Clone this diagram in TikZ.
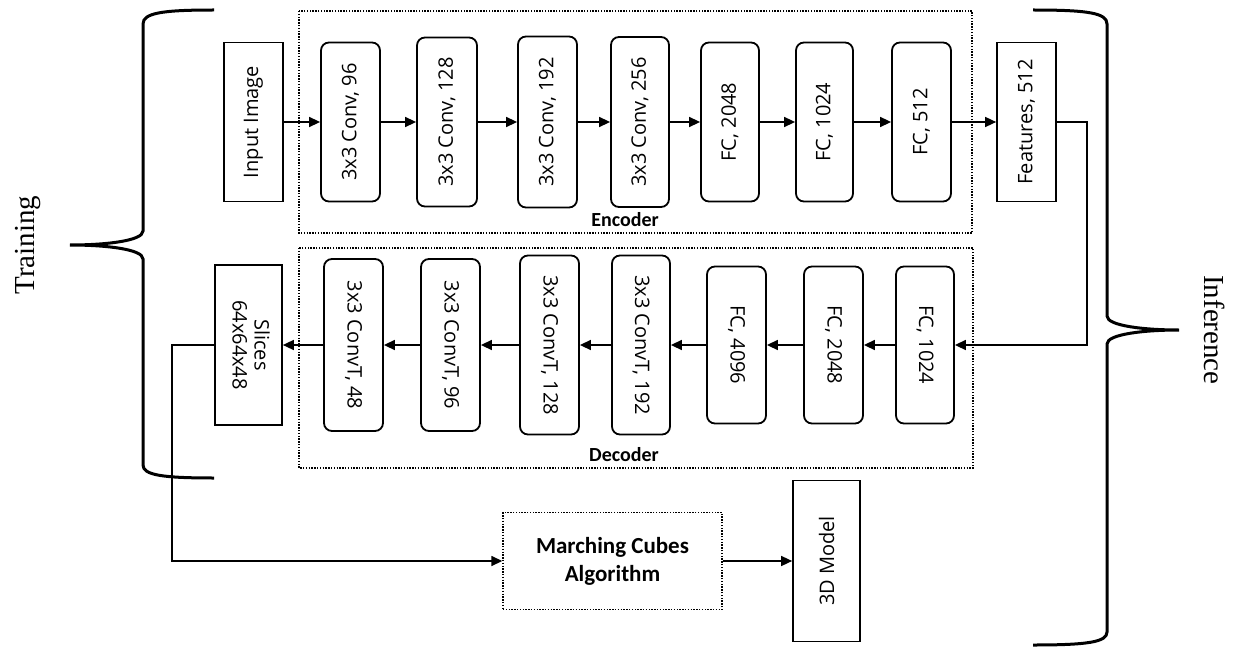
\documentclass[tikz,border=0pt]{standalone}
\usepackage{fontspec}
\setmainfont{Liberation Serif}
\newfontfamily\boxfont{Open Sans}
\newfontfamily\capfont{Carlito}
\usetikzlibrary{arrows.meta}
\newcommand{\rotup}[1]{\rotatebox{90}{#1}}
\newcommand{\rotdn}[1]{\rotatebox{-90}{#1}}
\tikzset{
  layer/.style={draw, line width=1.8pt, rounded corners=8pt, inner sep=0pt,
    font=\boxfont\fontsize{20}{24}\selectfont},
  plainbox/.style={draw, line width=1.7pt, inner sep=0pt,
    font=\boxfont\fontsize{20}{24}\selectfont},
  frame/.style={line width=1.4pt, dash pattern=on 1.4pt off 1.4pt},
  arr/.style={line width=1.5pt, -{Triangle[length=11pt,width=10pt]}},
  curly/.style={line width=3pt},
  caption/.style={font=\capfont\bfseries\fontsize{20}{24}\selectfont},
  side/.style={font=\fontsize{29}{34}\selectfont},
}
\begin{document}
\begin{tikzpicture}[x=1pt, y=-1pt]
  \useasboundingbox (0,0) rectangle (1241,647);
  % --- row heights ---
  \def\ye{122}   % encoder row
  \def\yd{345}   % decoder row
  % Encoder
  \draw[frame] (299,11) rectangle (972,233);
  \node[caption] (enclab) at (625,220) {Encoder};
  \node[plainbox, minimum width=59pt, minimum height=159pt] (inimg) at (253.5,\ye) {\rotup{Input Image}};
  \node[layer, minimum width=59pt, minimum height=159pt] (c96) at (350.5,\ye) {\rotup{3x3 Conv, 96}};
  \node[layer, minimum width=60pt, minimum height=169pt] (c128) at (447,\ye) {\rotup{3x3 Conv, 128}};
  \node[layer, minimum width=59pt, minimum height=171pt] (c192) at (547.5,\ye) {\rotup{3x3 Conv, 192}};
  \node[layer, minimum width=58pt, minimum height=170pt] (c256) at (640,\ye) {\rotup{3x3 Conv, 256}};
  \node[layer, minimum width=58pt, minimum height=159pt] (fc2048) at (730,\ye) {\rotup{FC, 2048}};
  \node[layer, minimum width=57pt, minimum height=159pt] (fc1024) at (824.5,\ye) {\rotup{FC, 1024}};
  \node[layer, minimum width=59pt, minimum height=159pt] (fc512) at (921.5,\ye) {\rotup{FC, 512}};
  \node[plainbox, minimum width=59pt, minimum height=159pt] (feat) at (1026.5,\ye) {\rotup{Features, 512}};
  \foreach \a/\b in {inimg/c96, c96/c128, c128/c192, c192/c256, c256/fc2048, fc2048/fc1024, fc1024/fc512, fc512/feat}
    \draw[arr] (\a.east) -- (\b.west);
  % Decoder
  \draw[frame] (299,248) rectangle (973,468);
  \node[caption] (declab) at (624,455) {Decoder};
  \node[layer, minimum width=58pt, minimum height=157pt] (dfc1024) at (925,\yd) {\rotdn{FC, 1024}};
  \node[layer, minimum width=59pt, minimum height=157pt] (dfc2048) at (833.5,\yd) {\rotdn{FC, 2048}};
  \node[layer, minimum width=59pt, minimum height=157pt] (dfc4096) at (736.5,\yd) {\rotdn{FC, 4096}};
  \node[layer, minimum width=58pt, minimum height=179pt] (dt192) at (641,\yd) {\rotdn{3x3 ConvT, 192}};
  \node[layer, minimum width=59pt, minimum height=179pt] (dt128) at (549.5,\yd) {\rotdn{3x3 ConvT, 128}};
  \node[layer, minimum width=59pt, minimum height=172pt] (dt96) at (450.5,\yd) {\rotdn{3x3 ConvT, 96}};
  \node[layer, minimum width=59pt, minimum height=172pt] (dt48) at (353.5,\yd) {\rotdn{3x3 ConvT, 48}};
  \node[plainbox, minimum width=67pt, minimum height=160pt] (slices) at (248.5,\yd)
    {\rotdn{\begin{tabular}{@{}c@{}}Slices\\[-2pt]64x64x48\end{tabular}}};
  \foreach \a/\b in {dfc1024/dfc2048, dfc2048/dfc4096, dfc4096/dt192, dt192/dt128, dt128/dt96, dt96/dt48, dt48/slices}
    \draw[arr] (\a.west) -- (\b.east);
  % Features feed the decoder
  \draw[arr] (feat.east) -- ++(30,0) |- (dfc1024.east);
  % Reconstruction
  \node[frame, draw, minimum width=219pt, minimum height=97pt, align=center, inner sep=0pt,
    font=\capfont\bfseries\fontsize{23}{28}\selectfont] (mc) at (612.5,561) {Marching Cubes\\Algorithm};
  \node[plainbox, minimum width=67pt, minimum height=161pt] (model) at (826.5,561) {\rotup{3D Model}};
  \draw[arr] (slices.west) -- ++(-42,0) |- (mc.west);
  \draw[arr] (mc.east) -- (model.west);
  % Braces
  \draw[curly] (214,10) .. controls (162,10) and (143,13) .. (143,24) -- (143,231)
    .. controls (143,241) and (105,245) .. (70,245)
    .. controls (105,245) and (143,249) .. (143,259) -- (143,465)
    .. controls (143,475) and (162,478) .. (214,478);
  \draw[curly] (1033,10) .. controls (1088,10) and (1107,13) .. (1107,24) -- (1107,316)
    .. controls (1107,326) and (1145,330) .. (1179,330)
    .. controls (1145,330) and (1107,334) .. (1107,344) -- (1107,632)
    .. controls (1107,642) and (1088,645) .. (1033,645);
  \node[side, rotate=90] (train) at (28,245) {Training};
  \node[side, rotate=-90] (infer) at (1215,330) {Inference};
\end{tikzpicture}
\end{document}
